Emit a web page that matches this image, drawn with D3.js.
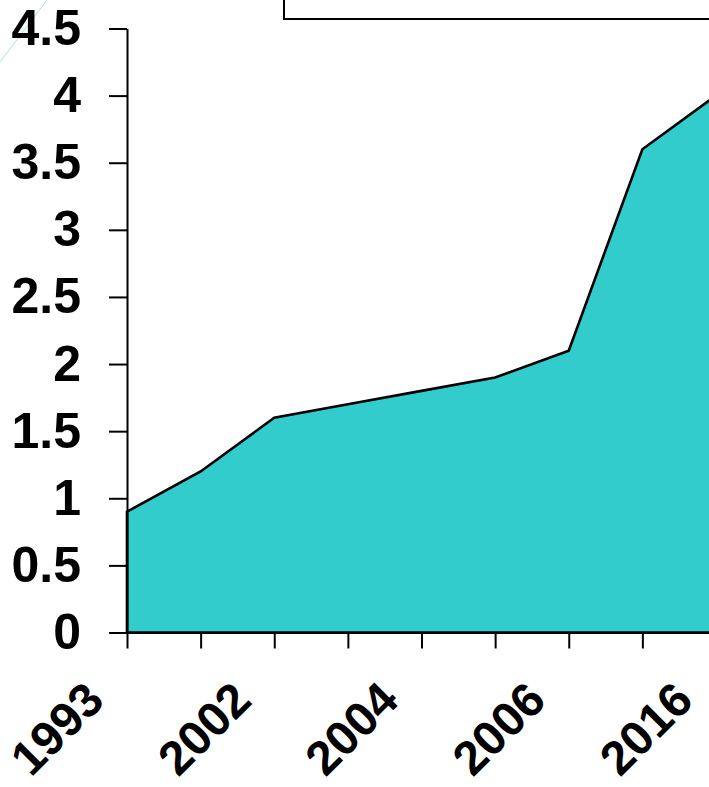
<!DOCTYPE html>
<html>
<head>
    <meta charset="utf-8" />
    <script src="https://d3js.org/d3.v7.min.js"></script>
    <title>Area chart</title>
    <style type="text/css">
        body { margin: 0; background: #fff; }
        svg { display: block; overflow: hidden; }
        .axis text { font-family: "Liberation Sans", Arial, sans-serif; font-weight: bold; fill: #000; }
        .axis.y text { font-size: 50px; }
        .axis.x text { font-size: 48px; }
        .axis path, .axis line { stroke: #000; stroke-width: 2px; }
        .area { fill: #33CCCC; stroke: #000; stroke-width: 2.6px; stroke-linejoin: miter; }
    </style>
</head>
<body>
    <div id="chart"></div>

    <script type="text/javascript">
        // categories along the x axis (only every other one gets a label)
        const years = ["1993", "2000", "2002", "2003", "2004", "2005", "2006", "2010", "2016"];
        const values = [0.9, 1.2, 1.6, 1.7, 1.8, 1.9, 2.1, 3.6, 4.0];
        const yTicks = [0, 0.5, 1, 1.5, 2, 2.5, 3, 3.5, 4, 4.5];

        const width = 709, height = 787;

        const svg = d3.select("#chart").append("svg")
            .attr("width", width)
            .attr("height", height);

        const x = d3.scalePoint()
            .domain(years)
            .range([127, 716]);

        const y = d3.scaleLinear()
            .domain([0, 4.5])
            .range([632.5, 28.5]);

        // faint leftover line in the corner
        svg.append("line")
            .attr("x1", 0).attr("y1", 62)
            .attr("x2", 47).attr("y2", 0)
            .attr("stroke", "#9ad8d8")
            .attr("stroke-width", 0.8);

        // legend box, mostly off the top of the picture
        svg.append("rect")
            .attr("x", 284).attr("y", -40)
            .attr("width", 460).attr("height", 59)
            .attr("fill", "none")
            .attr("stroke", "#000")
            .attr("stroke-width", 2);

        const data = years.map((d, i) => ({ year: d, value: values[i] }));

        const area = d3.area()
            .x(d => x(d.year))
            .y0(y(0))
            .y1(d => y(d.value));

        svg.append("path")
            .datum(data)
            .attr("class", "area")
            .attr("d", area);

        const yAxis = d3.axisLeft(y)
            .tickValues(yTicks)
            .tickFormat(d => String(d))
            .tickSizeInner(18)
            .tickSizeOuter(0)
            .tickPadding(28);

        svg.append("g")
            .attr("class", "axis y")
            .attr("transform", "translate(127,0)")
            .call(yAxis);

        const xAxis = d3.axisBottom(x)
            .tickSizeInner(16)
            .tickSizeOuter(0)
            .tickFormat((d, i) => i % 2 === 0 ? d : "");

        const gx = svg.append("g")
            .attr("class", "axis x")
            .attr("transform", "translate(0,632.5)")
            .call(xAxis);

        gx.selectAll("text")
            .attr("x", 0)
            .attr("y", 0)
            .attr("dy", null)
            .attr("text-anchor", "end")
            .attr("transform", "translate(-21,70) rotate(-45)");
    </script>
</body>
</html>
